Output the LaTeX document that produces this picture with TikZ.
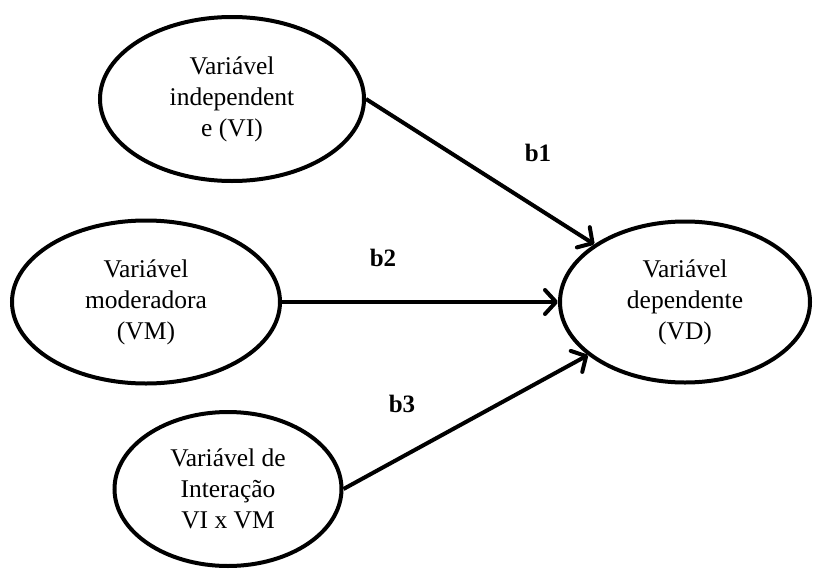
\documentclass[tikz,border=0pt]{standalone}
\usepackage{fontspec}
\setmainfont{Liberation Serif}
\usetikzlibrary{arrows.meta,shapes.geometric}
\begin{document}
\begin{tikzpicture}[x=1pt,y=-1pt,
  var/.style={ellipse,draw,line width=4pt,inner sep=0pt,align=center,
    font=\fontsize{25.5}{31}\selectfont},
  path/.style={line width=4pt,-{Straight Barb[length=11pt,width=24pt,line cap=round,line join=round]}},
  coef/.style={font=\fontsize{25}{30}\selectfont\bfseries}]
\useasboundingbox (0,0) rectangle (814,570);
\node[var,minimum width=264pt,minimum height=164pt] (vi) at (232,99)
  {Variável\\independent\\e (VI)};
\node[var,minimum width=268pt,minimum height=163pt] (vm) at (146,302)
  {Variável\\moderadora\\(VM)};
\node[var,minimum width=227pt,minimum height=154pt] (int) at (228,489)
  {Variável de\\Interação\\VI x VM};
\node[var,minimum width=250pt,minimum height=161pt] (vd) at (685,302)
  {Variável\\dependente\\(VD)};
\draw[path] (vi.east) -- (vd);
\draw[path] (vm.east) -- (vd.west);
\draw[path] (int.east) -- (vd);
\node[coef] (b1) at (538,153) {b1};
\node[coef] (b2) at (383,258) {b2};
\node[coef] (b3) at (402,404) {b3};
\end{tikzpicture}
\end{document}
